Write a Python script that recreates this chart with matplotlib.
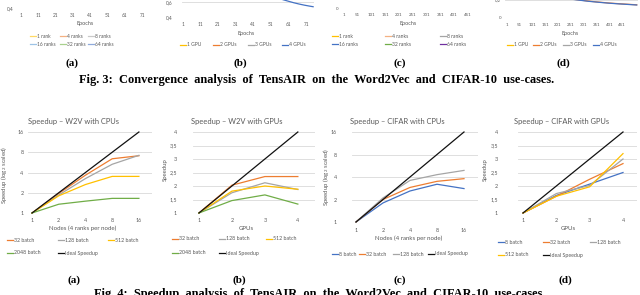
import matplotlib
matplotlib.use('Agg')
import matplotlib.pyplot as plt
from matplotlib.lines import Line2D
from matplotlib.ticker import FixedLocator, NullLocator

# ---------------- data ----------------
# Fig. 3 (only the bottom strip is visible)
epoch_ticks_w2v = [1, 11, 21, 31, 41, 51, 61, 71]
epoch_ticks_cifar = [1, 51, 101, 151, 201, 251, 301, 351, 401, 451]
fig3a_labels = ['1 rank', '4 ranks', '8 ranks', '16 ranks', '32 ranks', '64 ranks']
fig3b_labels = ['1 GPU', '2 GPUs', '3 GPUs', '4 GPUs']
fig3c_labels = ['1 rank', '4 ranks', '8 ranks', '16 ranks', '32 ranks', '64 ranks']
fig3d_labels = ['1 GPU', '2 GPUs', '3 GPUs', '4 GPUs']
fig3b_epochs = [56, 58, 61, 64, 67, 70, 73, 75]
fig3b_4gpu = [0.645, 0.63, 0.61, 0.59, 0.573, 0.558, 0.545, 0.537]
fig3d_epochs = [250, 280, 320, 360, 400, 440, 480, 508]
fig3d_2gpu = [0.207, 0.196, 0.182, 0.171, 0.161, 0.153, 0.146, 0.141]
fig3d_4gpu = [0.205, 0.194, 0.180, 0.169, 0.159, 0.151, 0.144, 0.139]

# Fig. 4
nodes = [1, 2, 4, 8, 16]
gpus = [1, 2, 3, 4]
w2v_cpu_32 = [1, 1.95, 3.65, 6.4, 7.1]
w2v_cpu_128 = [1, 1.85, 3.25, 5.3, 7.2]
w2v_cpu_512 = [1, 1.8, 2.65, 3.5, 3.5]
w2v_cpu_2048 = [1, 1.35, 1.5, 1.65, 1.65]
ideal_nodes = [1, 2, 4, 8, 16]

w2v_gpu_32 = [1, 2.03, 2.35, 2.35]
w2v_gpu_128 = [1, 1.75, 2.12, 1.87]
w2v_gpu_512 = [1, 1.81, 2.0, 1.88]
w2v_gpu_2048 = [1, 1.46, 1.67, 1.33]
ideal_gpus = [1, 2, 3, 4]

cifar_cpu_8 = [1, 1.8, 2.6, 3.2, 2.8]
cifar_cpu_32 = [1, 2.0, 2.9, 3.5, 3.8]
cifar_cpu_128 = [1, 2.1, 3.6, 4.3, 4.9]

cifar_gpu_8 = [1, 1.65, 2.07, 2.5]
cifar_gpu_32 = [1, 1.62, 2.25, 2.83]
cifar_gpu_128 = [1, 1.72, 2.02, 3.0]
cifar_gpu_512 = [1, 1.62, 1.97, 3.2]

log_ticks = [1, 2, 4, 8, 16]
lin_ticks = [1, 1.5, 2, 2.5, 3, 3.5, 4]
lin_tick_labels = ['1', '1,5', '2', '2,5', '3', '3,5', '4']

# ---------------- style ----------------
ORANGE = '#ED7D31'; GRAY = '#A5A5A5'; YELLOW = '#FFC000'; BLUE = '#4472C4'
GREEN = '#70AD47'; PURPLE = '#7030A0'; BLACK = '#111111'
PALE = ['#FFD966', '#F4B183', '#C9C9C9', '#9DC3E6', '#A9D18E', '#8FAADC']
TXT = '#595959'
GRID = '#D9D9D9'
FONT = 'Lato'
SERIF = 'Liberation Serif'

W, H = 640, 295
fig = plt.figure(figsize=(6.4, 2.95), dpi=100)


def px_axes(x0, y0, x1, y1):
    return fig.add_axes([x0 / W, 1 - y1 / H, (x1 - x0) / W, (y1 - y0) / H])


def ftext(x, y, s, size, **kw):
    kw.setdefault('color', TXT)
    kw.setdefault('family', FONT)
    fig.text(x / W, 1 - y / H, s, fontsize=size, ha=kw.pop('ha', 'center'),
             va=kw.pop('va', 'center'), **kw)


def legend_item(x, y, label, color, size=3.8, dash=6):
    fig.add_artist(Line2D([x / W, (x + dash) / W], [1 - y / H, 1 - y / H],
                          color=color, lw=0.9, transform=fig.transFigure))
    ftext(x + dash + 1.2, y, label, size, ha='left')


def style(ax, ypad_px, xpad_px, lsize=3.9):
    for s in ax.spines.values():
        s.set_visible(False)
    ax.tick_params(length=0, labelsize=lsize, colors=TXT)
    ax.tick_params(axis='y', pad=ypad_px * 0.72)
    ax.tick_params(axis='x', pad=xpad_px * 0.72)
    for lab in ax.get_xticklabels() + ax.get_yticklabels():
        lab.set_family(FONT)
    ax.grid(axis='y', color=GRID, lw=0.6)
    ax.grid(axis='x', visible=False)
    ax.set_axisbelow(True)
    ax.patch.set_alpha(0)


# ---------------- Fig. 3 strip ----------------
# (a)
a3 = px_axes(20, -40, 150, 8.5)
a3.set_xlim(0.5, 75.5); a3.set_ylim(0.4, 1.0)
a3.set_yticks([0.4]); a3.set_yticklabels(['0,4'])
a3.set_xticks(epoch_ticks_w2v); a3.set_xticklabels([str(t) for t in epoch_ticks_w2v])
style(a3, 6, 4.5, 3.4)
ftext(85, 24, 'Epochs', 3.9)
for i, lab in enumerate(fig3a_labels):
    row, col = divmod(i, 3)
    legend_item([30, 60, 88][col], [36, 44][row], lab, PALE[i], size=3.5)

# (b)
b3 = px_axes(182, -43, 314, 17)
b3.set_xlim(0.5, 75.5); b3.set_ylim(0.4, 1.2)
b3.set_yticks([0.4, 0.6]); b3.set_yticklabels(['0,4', '0,6'])
b3.set_xticks(epoch_ticks_w2v); b3.set_xticklabels([str(t) for t in epoch_ticks_w2v])
style(b3, 9, 5.5, 3.4)
b3.plot(fig3b_epochs, fig3b_4gpu, color=BLUE, lw=0.9)
ftext(246, 33, 'Epochs', 3.9)
for x, lab, c in zip([180, 213, 248, 282], fig3b_labels, [YELLOW, ORANGE, GRAY, BLUE]):
    legend_item(x, 44.5, lab, c, size=3.6)

# (c)
c3 = px_axes(342, -40, 473, 8.5)
c3.set_xlim(-5, 469); c3.set_ylim(0, 3)
c3.set_yticks([0]); c3.set_yticklabels(['0'])
c3.set_xticks(epoch_ticks_cifar); c3.set_xticklabels([str(t) for t in epoch_ticks_cifar])
style(c3, 4, 4.5, 3.2)
ftext(408, 24, 'Epochs', 3.9)
for i, (lab, c) in enumerate(zip(fig3c_labels, [YELLOW, '#F4B183', GRAY, BLUE, GREEN, PURPLE])):
    row, col = divmod(i, 3)
    legend_item([332, 385, 440][col], [36, 44][row], lab, c, size=3.6)

# (d)
d3 = px_axes(505, -40, 638, 17.5)
d3.set_xlim(-6, 513); d3.set_ylim(0, 0.2 * 57.5 / 18)
d3.set_yticks([0, 0.2]); d3.set_yticklabels(['0', '0,2'])
d3.set_xticks(epoch_ticks_cifar); d3.set_xticklabels([str(t) for t in epoch_ticks_cifar])
style(d3, 4, 5.5, 3.2)
d3.plot(fig3d_epochs, fig3d_2gpu, color=ORANGE, lw=0.9)
d3.plot(fig3d_epochs, fig3d_4gpu, color=BLUE, lw=0.9)
ftext(570, 33, 'Epochs', 3.9)
for x, lab, c in zip([507, 533, 563, 593], fig3d_labels, [YELLOW, ORANGE, GRAY, BLUE]):
    legend_item(x, 44.5, lab, c, size=3.6)

for x, lab in zip([72, 240, 400, 563], ['(a)', '(b)', '(c)', '(d)']):
    ftext(x, 63, lab, 8, family=SERIF, weight='bold', color='black')
ftext(317, 80, 'Fig. 3:  Convergence  analysis  of  TensAIR  on  the  Word2Vec  and  CIFAR-10  use-cases.',
      8.9, family=SERIF, weight='bold', color='black')

# ---------------- Fig. 4 ----------------
LW = 0.9
# (a) W2V with CPUs
ax = px_axes(28, 132, 152, 213)
ax.set_xscale('log', base=2); ax.set_yscale('log', base=2)
ax.set_xlim(2 ** (-0.15), 2 ** 4.49); ax.set_ylim(1, 16)
for ys, c in [(w2v_cpu_32, ORANGE), (w2v_cpu_128, GRAY), (w2v_cpu_512, YELLOW),
              (w2v_cpu_2048, GREEN), (ideal_nodes, BLACK)]:
    ax.plot(nodes, ys, color=c, lw=LW, clip_on=False)
ax.xaxis.set_major_locator(FixedLocator(log_ticks)); ax.xaxis.set_minor_locator(NullLocator())
ax.yaxis.set_major_locator(FixedLocator(log_ticks)); ax.yaxis.set_minor_locator(NullLocator())
ax.set_xticklabels([str(t) for t in log_ticks]); ax.set_yticklabels([str(t) for t in log_ticks])
style(ax, 4.5, 5.5)
ftext(74, 122, 'Speedup – W2V with CPUs', 5.4)
ftext(83, 228, 'Nodes (4 ranks per node)', 4.4)
ftext(4.5, 175, 'Speedup (log$_2$ scaled)', 4.3, rotation=90)
for x, y, lab, c in [(7, 240, '32 batch', ORANGE), (58, 240, '128 batch', GRAY),
                     (108, 240, '512 batch', YELLOW), (7, 253, '2048 batch', GREEN),
                     (58, 253, 'Ideal Speedup', BLACK)]:
    legend_item(x, y, lab, c)

# (b) W2V with GPUs
ax = px_axes(193, 132, 315, 213)
ax.set_xlim(0.82, 4.52); ax.set_ylim(1, 4)
for ys, c in [(w2v_gpu_32, ORANGE), (w2v_gpu_128, GRAY), (w2v_gpu_512, YELLOW),
              (w2v_gpu_2048, GREEN), (ideal_gpus, BLACK)]:
    ax.plot(gpus, ys, color=c, lw=LW, clip_on=False)
ax.set_xticks(gpus); ax.set_xticklabels([str(g) for g in gpus])
ax.set_yticks(lin_ticks); ax.set_yticklabels(lin_tick_labels)
style(ax, 16, 5.5)
ftext(237, 122, 'Speedup – W2V with GPUs', 5.4)
ftext(246, 228, 'GPUs', 4.4)
ftext(165, 170, 'Speedup', 4.3, rotation=90)
for x, y, lab, c in [(172, 239, '32 batch', ORANGE), (219, 239, '128 batch', GRAY),
                     (266, 239, '512 batch', YELLOW), (172, 253, '2048 batch', GREEN),
                     (219, 253, 'Ideal Speedup', BLACK)]:
    legend_item(x, y, lab, c)

# (c) CIFAR with CPUs
ax = px_axes(352, 132, 478, 222)
ax.set_xscale('log', base=2); ax.set_yscale('log', base=2)
ax.set_xlim(2 ** (-4 / 27), 2 ** (122 / 27)); ax.set_ylim(1, 16)
for ys, c in [(cifar_cpu_8, BLUE), (cifar_cpu_32, ORANGE), (cifar_cpu_128, GRAY),
              (ideal_nodes, BLACK)]:
    ax.plot(nodes, ys, color=c, lw=LW, clip_on=False)
ax.xaxis.set_major_locator(FixedLocator(log_ticks)); ax.xaxis.set_minor_locator(NullLocator())
ax.yaxis.set_major_locator(FixedLocator(log_ticks)); ax.yaxis.set_minor_locator(NullLocator())
ax.set_xticklabels([str(t) for t in log_ticks]); ax.set_yticklabels([str(t) for t in log_ticks])
style(ax, 15, 5.5)
ftext(397, 122, 'Speedup – CIFAR with CPUs', 5.4)
ftext(409, 238, 'Nodes (4 ranks per node)', 4.4)
ftext(326, 177, 'Speedup (log$_2$ scaled)', 4.3, rotation=90)
for x, lab, c in [(332, '8 batch', BLUE), (359, '32 batch', ORANGE),
                  (393, '128 batch', GRAY), (428, 'Ideal Speedup', BLACK)]:
    legend_item(x, 254, lab, c)

# (d) CIFAR with GPUs
ax = px_axes(518, 132, 637, 213)
ax.set_xlim(0.85, 4.42); ax.set_ylim(1, 4)
for ys, c in [(cifar_gpu_8, BLUE), (cifar_gpu_32, ORANGE), (cifar_gpu_128, GRAY),
              (cifar_gpu_512, YELLOW), (ideal_gpus, BLACK)]:
    ax.plot(gpus, ys, color=c, lw=LW, clip_on=False)
ax.set_xticks(gpus); ax.set_xticklabels([str(g) for g in gpus])
ax.set_yticks(lin_ticks); ax.set_yticklabels(lin_tick_labels)
style(ax, 20, 5.5)
ftext(562, 122, 'Speedup – CIFAR with GPUs', 5.4)
ftext(568, 228, 'GPUs', 4.4)
ftext(485, 170, 'Speedup', 4.3, rotation=90)
for x, y, lab, c in [(498, 242, '8 batch', BLUE), (543, 242, '32 batch', ORANGE),
                     (590, 242, '128 batch', GRAY), (498, 255, '512 batch', YELLOW),
                     (543, 255, 'Ideal Speedup', BLACK)]:
    legend_item(x, y, lab, c)

for x, lab in zip([74, 239, 400, 565], ['(a)', '(b)', '(c)', '(d)']):
    ftext(x, 280, lab, 8, family=SERIF, weight='bold', color='black')
ftext(320, 294, 'Fig. 4:  Speedup  analysis  of  TensAIR  on  the  Word2Vec  and  CIFAR-10  use-cases.',
      8.9, family=SERIF, weight='bold', color='black')

fig.savefig('out.png', dpi=100)
